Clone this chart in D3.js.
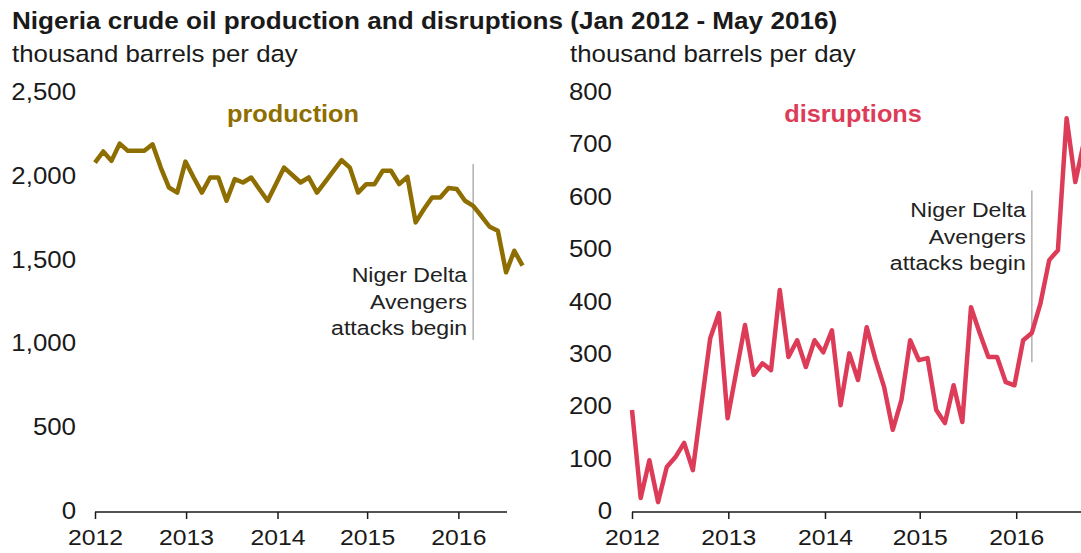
<!DOCTYPE html>
<meta charset="utf-8">
<head>
  <title>Nigeria crude oil production and disruptions</title>
</head>

<style>
body { margin: 0; background: #fff; }
text {
  font-family: "Liberation Sans", Arial, sans-serif;
  fill: #1a1a1a;
}
.domain, .tick line { stroke: #1a1a1a; stroke-width: 1.5; }
</style>

<body>
  <svg width="1081" height="553"></svg>

  <script src="https://cdnjs.cloudflare.com/ajax/libs/d3/7.8.5/d3.min.js"></script>
  <script>
// monthly values, thousand barrels per day
var production = [2079, 2145, 2089, 2192, 2149, 2149, 2149, 2188, 2049, 1930,
  1900, 2085, 1990, 1900, 1990, 1990, 1851, 1980, 1960, 1990,
  1920, 1851, 1950, 2049, 2005, 1960, 1990, 1900, 1964, 2029,
  2093, 2049, 1900, 1950, 1950, 2030, 2030, 1950, 1994, 1722,
  1800, 1871, 1871, 1927, 1921, 1851, 1821, 1760, 1696, 1672,
  1424, 1553, 1464];

var disruptions = [193, 25, 97, 17, 84, 103, 130, 78, 205, 330,
  378, 177, 266, 355, 260, 282, 269, 422, 294, 326,
  275, 326, 303, 345, 202, 301, 250, 351, 290, 237,
  155, 212, 326, 288, 292, 193, 168, 240, 170, 389,
  340, 294, 294, 246, 240, 326, 340, 397, 479, 498,
  750, 628, 705];

var years = ['2012', '2013', '2014', '2015', '2016'];
var yearAt = [0, 11.08, 22.2, 33.1, 44.2];   // month index under each year tick
var prodTicks = [0, 500, 1000, 1500, 2000, 2500];
var disrTicks = [0, 100, 200, 300, 400, 500, 600, 700, 800];
var attackAt = 46;
var noteLines = ['Niger Delta', 'Avengers', 'attacks begin'];

var SX = 1.1; // the source picture is stretched sideways
var svg = d3.select('svg');

function txt(x, y, s, opts) {
  opts = opts || {};
  return svg.append('text')
    .attr('transform', 'translate(' + x + ',' + y + ') scale(' + (opts.sx || SX) + ',1)')
    .attr('text-anchor', opts.anchor || 'start')
    .style('font-size', (opts.size || 22) + 'px')
    .style('font-weight', opts.weight || 'normal')
    .style('fill', opts.fill || '#1a1a1a')
    .text(s);
}

txt(12, 29, 'Nigeria crude oil production and disruptions (Jan 2012 - May 2016)',
  {size: 23, weight: 'bold', sx: 1.135});

var panels = [
  {values: production, ticks: prodTicks, max: 2500, fmt: d3.format(','),
   left: 95, right: 522.5, axisEnd: 507, labelX: 76, sub: 12,
   color: '#8e6e00', name: 'production', nameX: 293,
   note: [2070, 1020], noteTop: 282},
  {values: disruptions, ticks: disrTicks, max: 800, fmt: d3.format(''),
   left: 632, right: 1084, axisEnd: 1081, labelX: 612, sub: 570,
   color: '#dc3c57', name: 'disruptions', nameX: 853,
   note: [612, 284], noteTop: 217}
];

panels.forEach(function(p) {
  var x = d3.scaleLinear().domain([0, p.values.length - 1]).range([p.left, p.right]);
  var y = d3.scaleLinear().domain([0, p.max]).range([511, 92]);

  txt(p.sub, 62, 'thousand barrels per day', {size: 23.5});

  var ya = svg.append('g')
    .attr('transform', 'translate(' + p.labelX + ',0)')
    .call(d3.axisLeft(y).tickValues(p.ticks).tickFormat(p.fmt).tickSize(0).tickPadding(0));
  ya.select('.domain').remove();
  ya.selectAll('text')
    .style('font-size', '23.5px')
    .attr('transform', 'scale(' + SX + ',1)');

  var xa = svg.append('g')
    .attr('transform', 'translate(0,512)')
    .call(d3.axisBottom(x).tickValues(yearAt)
      .tickFormat(function(d, i) { return years[i]; })
      .tickSize(7).tickPadding(10).tickSizeOuter(0));
  xa.select('.domain').attr('d', 'M' + p.left + ',0H' + p.axisEnd);
  xa.selectAll('text')
    .style('font-size', '22.5px')
    .attr('transform', 'scale(' + SX + ',1)');

  // annotation
  svg.append('line')
    .attr('x1', x(attackAt)).attr('x2', x(attackAt))
    .attr('y1', y(p.note[0])).attr('y2', y(p.note[1]))
    .attr('stroke', '#b0b0b0').attr('stroke-width', 1.5);

  noteLines.forEach(function(s, i) {
    txt(x(attackAt) - 6, p.noteTop + i * 26.5, s, {anchor: 'end', size: 21, fill: '#222'});
  });

  txt(p.nameX, 122, p.name, {anchor: 'middle', size: 23, weight: 'bold', fill: p.color});

  svg.append('path')
    .datum(p.values)
    .attr('fill', 'none')
    .attr('stroke', p.color)
    .attr('stroke-width', 4.5)
    .attr('stroke-linejoin', 'round')
    .attr('d', d3.line()
      .x(function(d, i) { return x(i); })
      .y(function(d) { return y(d); }));
});
  </script>
</body>
</html>
